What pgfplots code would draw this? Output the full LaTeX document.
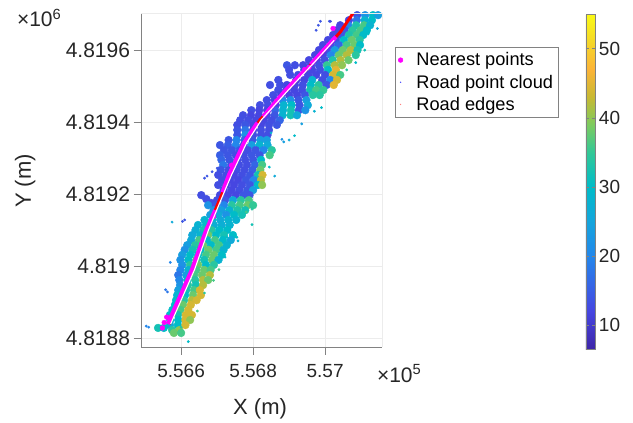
\documentclass[border=0pt]{standalone}
\usepackage{pgfplots}
\pgfplotsset{compat=1.18}
\usepackage{fontspec}
\setmainfont{Liberation Sans}
\definecolor{tk}{RGB}{38,38,38}
\definecolor{ax}{RGB}{130,130,130}
\definecolor{mag}{RGB}{255,0,255}
\definecolor{rd}{RGB}{255,0,0}
\definecolor{wh}{RGB}{255,255,255}
\pgfplotsset{colormap={scan}{
 rgb255(6.5)=(62,38,168) rgb255(12)=(70,70,225) rgb255(20)=(35,135,235) rgb255(25)=(20,165,220)
 rgb255(30)=(0,188,200) rgb255(35)=(50,200,150) rgb255(39)=(125,203,95) rgb255(43)=(200,185,50)
 rgb255(47)=(252,180,55) rgb255(51)=(245,215,40) rgb255(55)=(250,250,20)}}
\begin{document}
\begin{tikzpicture}
\path[use as bounding box] (-141.5bp,-76bp) rectangle (491.5bp,347bp);
\begin{axis}[
 at={(0,0)}, anchor=south west, scale only axis, width=240.5bp, height=334bp,
 xmin=556490, xmax=557158, ymin=4818775, ymax=4819703,
 clip mode=individual,
 axis x line*=bottom, axis y line*=left, axis line style={ax,-},
 tick style={ax}, tick align=outside, major tick length=8bp,
 xtick={556600,556800,557000}, xticklabels={5.566,5.568,5.57},
 ytick={4818800,4819000,4819200,4819400,4819600},
 yticklabels={4.8188,4.819,4.8192,4.8194,4.8196},
 scaled ticks=false,
 x tick label style={font=\fontsize{19bp}{22bp}\selectfont, text=tk, yshift=-6bp},
 y tick label style={font=\fontsize{21bp}{24bp}\selectfont, text=tk},
 grid=major, grid style={gray!15},
 xlabel={X (m)}, ylabel={Y (m)},
 label style={font=\fontsize{22bp}{26bp}\selectfont, text=tk},
 xlabel style={at={(rel axis cs:0.493,-0.186)}, anchor=center},
 ylabel style={at={(rel axis cs:-0.484,0.497)}, anchor=center, rotate=0},
 point meta min=6.5, point meta max=55,
 colormap name=scan,
 colorbar,
 colorbar style={at={(1.848,0.997)}, anchor=north west, width=9.5bp, height=335bp,
   ytick={10,20,30,40,50},
   yticklabel style={font=\fontsize{19bp}{22bp}\selectfont, text=tk, /pgf/number format/assume math mode=true},
   major tick length=3bp, tick style={ax}, axis line style={ax}, ymin=6.5, ymax=55},
 legend cell align=left,
 legend style={at={(1.054,0.898)}, anchor=north west, draw=ax, fill=white,
   font=\fontsize{18.2bp}{20bp}\selectfont, text=black, row sep=3.5pt, column sep=11.5bp, inner xsep=3bp, inner ysep=3.5bp},
 legend image post style={xshift=11bp},
 unbounded coords=jump,
]
\addlegendimage{only marks, mark=*, mark size=2.4bp, mag}
\addlegendimage{only marks, mark=*, mark size=0.4bp, blue!70}
\addlegendimage{only marks, mark=*, mark size=0.4bp, red!50}
\legend{Nearest points, Road point cloud, Road edges}

% main cloud
\addplot[forget plot, scatter, only marks, mark=*, mark size=3.9bp, point meta=explicit,
  scatter/use mapped color={draw=mapped color, fill=mapped color}] coordinates {
(557089,4819697)[14] (557111,4819697)[22] (557133,4819697)[30] (557147,4819697)[24]
(557066,4819683)[12] (557088,4819683)[18] (557110,4819683)[28] (557130,4819683)[30]
(557042,4819669)[12] (557064,4819669)[20] (557086,4819669)[33] (557108,4819669)[36] (557125,4819669)[28]
(557032,4819655)[12] (557054,4819655)[14] (557076,4819655)[34] (557098,4819655)[36] (557116,4819655)[30]
(557022,4819642)[12] (557044,4819642)[14] (557066,4819642)[33] (557088,4819642)[36] (557106,4819642)[30]
(557008,4819628)[12] (557030,4819628)[13] (557052,4819628)[30] (557074,4819628)[38] (557096,4819628)[34]
(556994,4819614)[12] (557016,4819614)[13] (557038,4819614)[16] (557060,4819614)[36] (557082,4819614)[38] (557097,4819614)[30]
(556983,4819600)[12] (557005,4819600)[13] (557027,4819600)[24] (557049,4819600)[38] (557071,4819600)[42] (557090,4819600)[32]
(556972,4819586)[12] (556994,4819586)[12] (557016,4819586)[20] (557038,4819586)[38] (557060,4819586)[42] (557085,4819586)[34]
(556955,4819572)[12] (556977,4819572)[12] (556999,4819572)[13] (557021,4819572)[33] (557043,4819572)[42] (557065,4819572)[38]
(556894,4819558)[14] (556916,4819558)[13]
(556939,4819558)[12] (556961,4819558)[12] (556983,4819558)[13] (557005,4819558)[35] (557027,4819558)[42] (557047,4819558)[40]
(556900,4819545)[13] (556942,4819545)[12] (556964,4819545)[12] (556986,4819545)[13] (557008,4819545)[30] (557030,4819545)[45]
(556903,4819531)[13] (556925,4819531)[13]
(556953,4819531)[12] (556975,4819531)[12] (557000,4819531)[13] (557022,4819531)[44] (557042,4819531)[36]
(556870,4819517)[13] (556920,4819517)[12] (556942,4819517)[12] (556964,4819517)[28] (556992,4819517)[13] (557014,4819517)[20] (557033,4819517)[44]
(556847,4819503)[13] (556875,4819503)[13]
(556894,4819503)[12] (556916,4819503)[12] (556938,4819503)[13] (556960,4819503)[30] (556982,4819503)[34] (557004,4819503)[14] (557024,4819503)[45]
(556870,4819489)[13] (556892,4819489)[12] (556914,4819489)[12] (556936,4819489)[13] (556958,4819489)[32] (556975,4819489)[36] (556995,4819489)[35]
(556856,4819475)[13] (556878,4819475)[12] (556900,4819475)[12] (556922,4819475)[12] (556944,4819475)[14] (556966,4819475)[34] (556985,4819475)[34]
(556838,4819461)[13] (556860,4819461)[12] (556882,4819461)[20] (556904,4819461)[22] (556926,4819461)[14] (556948,4819461)[24]
(556819,4819447)[13] (556841,4819447)[13] (556863,4819447)[12] (556885,4819447)[28] (556907,4819447)[30] (556929,4819447)[14] (556952,4819447)[26]
(556795,4819433)[13] (556817,4819433)[12] (556839,4819433)[12] (556861,4819433)[16] (556883,4819433)[28] (556905,4819433)[32] (556927,4819433)[14] (556945,4819433)[22]
(556772,4819419)[13] (556794,4819419)[12] (556816,4819419)[12] (556838,4819419)[12] (556860,4819419)[14] (556882,4819419)[28] (556904,4819419)[32] (556922,4819419)[26]
(556764,4819405)[13] (556786,4819405)[13] (556808,4819405)[12] (556830,4819405)[12] (556852,4819405)[13] (556874,4819405)[16]
(556756,4819392)[13] (556778,4819392)[14] (556800,4819392)[12] (556822,4819392)[12] (556844,4819392)[13] (556866,4819392)[14]
(556756,4819378)[14] (556778,4819378)[18] (556800,4819378)[12] (556822,4819378)[13] (556844,4819378)[13]
(556756,4819364)[14] (556778,4819364)[22] (556800,4819364)[13] (556822,4819364)[13] (556840,4819364)[13]
(556732,4819350)[14] (556754,4819350)[20] (556776,4819350)[16] (556798,4819350)[14] (556820,4819350)[24] (556838,4819350)[24]
(556708,4819336)[14] (556730,4819336)[15] (556752,4819336)[20] (556774,4819336)[13] (556796,4819336)[24] (556818,4819336)[28] (556840,4819336)[26]
(556719,4819322)[14] (556741,4819322)[14] (556763,4819322)[14] (556785,4819322)[13] (556807,4819322)[14] (556829,4819322)[20] (556852,4819322)[34]
(556708,4819308)[15] (556730,4819308)[14] (556752,4819308)[13] (556774,4819308)[13] (556796,4819308)[14] (556818,4819308)[14] (556846,4819308)[36]
(556712,4819295)[16] (556734,4819295)[14] (556756,4819295)[13] (556778,4819295)[13] (556800,4819295)[14] (556822,4819295)[30]
(556717,4819281)[18] (556739,4819281)[14] (556761,4819281)[13] (556783,4819281)[13] (556805,4819281)[16] (556825,4819281)[36]
(556710,4819267)[14] (556732,4819267)[13] (556754,4819267)[13] (556776,4819267)[13] (556798,4819267)[15] (556820,4819267)[38]
(556703,4819253)[13] (556725,4819253)[13] (556747,4819253)[12] (556769,4819253)[13] (556791,4819253)[14] (556813,4819253)[32] (556826,4819253)[44]
(556714,4819239)[13] (556736,4819239)[12] (556758,4819239)[12] (556780,4819239)[14] (556802,4819239)[20] (556822,4819239)[42]
(556703,4819225)[13] (556725,4819225)[12] (556747,4819225)[12] (556769,4819225)[13] (556791,4819225)[14] (556813,4819225)[30] (556825,4819225)[40]
(556718,4819211)[13] (556740,4819211)[12] (556762,4819211)[13] (556784,4819211)[14] (556800,4819211)[24]
(556708,4819197)[12] (556730,4819197)[12] (556752,4819197)[12] (556774,4819197)[14] (556790,4819197)[14]
(556656,4819197)[13] (556670,4819186)[13] (556684,4819175)[13] (556695,4819166)[13]
(556700,4819183)[13] (556722,4819183)[14] (556744,4819183)[26] (556766,4819183)[34] (556788,4819183)[36]
(556675,4819169)[22] (556697,4819169)[14] (556719,4819169)[20] (556741,4819169)[34] (556763,4819169)[36] (556785,4819169)[38] (556800,4819169)[35]
(556690,4819155)[22] (556712,4819155)[24] (556734,4819155)[28] (556756,4819155)[33] (556778,4819155)[32]
(556681,4819142)[24] (556703,4819142)[26] (556725,4819142)[22] (556747,4819142)[30] (556769,4819142)[32]
(556665,4819128)[28] (556687,4819128)[30] (556709,4819128)[26] (556731,4819128)[28] (556753,4819128)[28]
(556647,4819114)[28] (556669,4819114)[30] (556691,4819114)[27] (556713,4819114)[27] (556735,4819114)[28]
(556640,4819100)[27] (556662,4819100)[32] (556684,4819100)[34] (556706,4819100)[30] (556728,4819100)[30]
(556631,4819086)[26] (556653,4819086)[28] (556675,4819086)[38] (556697,4819086)[30] (556719,4819086)[32] (556744,4819086)[30]
(556628,4819072)[26] (556650,4819072)[36] (556672,4819072)[30] (556694,4819072)[36] (556716,4819072)[30] (556738,4819072)[26]
(556617,4819058)[24] (556639,4819058)[34] (556661,4819058)[38] (556683,4819058)[30] (556705,4819058)[36] (556727,4819058)[28]
(556610,4819045)[22] (556632,4819045)[32] (556654,4819045)[30] (556676,4819045)[38] (556698,4819045)[36] (556718,4819045)[28]
(556603,4819031)[24] (556625,4819031)[30] (556647,4819031)[30] (556669,4819031)[36] (556691,4819031)[38] (556713,4819031)[30]
(556598,4819017)[22] (556620,4819017)[30] (556642,4819017)[36] (556664,4819017)[32] (556686,4819017)[38] (556704,4819017)[28]
(556603,4819003)[22] (556625,4819003)[34] (556647,4819003)[38] (556669,4819003)[30] (556691,4819003)[34]
(556598,4818989)[20] (556620,4818989)[28] (556642,4818989)[36] (556664,4818989)[38] (556682,4818989)[36]
(556592,4818975)[18] (556614,4818975)[24] (556636,4818975)[36] (556658,4818975)[38] (556680,4818975)[42]
(556595,4818961)[20] (556617,4818961)[28] (556639,4818961)[34] (556661,4818961)[42] (556675,4818961)[38]
(556597,4818947)[22] (556619,4818947)[34] (556641,4818947)[32] (556661,4818947)[42]
(556592,4818933)[24] (556614,4818933)[32] (556636,4818933)[36] (556652,4818933)[44]
(556589,4818919)[28] (556611,4818919)[30] (556633,4818919)[38] (556655,4818919)[44]
(556586,4818905)[30] (556608,4818905)[34] (556630,4818905)[42] (556643,4818905)[44]
(556583,4818892)[30] (556605,4818892)[38] (556627,4818892)[44]
(556576,4818878)[30] (556598,4818878)[36] (556620,4818878)[44]
(556569,4818864)[30] (556591,4818864)[32] (556613,4818864)[44] (556630,4818864)[44]
(556570,4818850)[28] (556592,4818850)[30] (556612,4818850)[44] (556625,4818850)[40]
(556569,4818836)[26] (556591,4818836)[30] (556612,4818836)[44]
(556575,4818822)[34] (556595,4818822)[40]
(556580,4818814)[38] (556600,4818814)[36]
(556536,4818828)[32] (556552,4818828)[30]
};
% small islands and specks
\addplot[forget plot, scatter, only marks, mark=*, mark size=1.2bp, point meta=explicit,
  scatter/use mapped color={draw=mapped color, fill=mapped color}] coordinates {
(556981,4819669)[14] (556987,4819680)[14] (556975,4819655)[14] (557012,4819680)[14]
(557120,4819645)[30] (557145,4819660)[26] (557110,4819600)[32] (557085,4819565)[30] (557060,4819545)[34]
(557015,4819680)[13] (556955,4819560)[13] (556870,4819520)[13]
(556850,4819370)[28] (556885,4819345)[24] (556900,4819350)[26] (556915,4819362)[30] (556880,4819352)[22]
(556990,4819440)[30] (556970,4819430)[28] (556935,4819395)[24]
(556850,4819305)[36] (556845,4819275)[30] (556860,4819250)[26]
(556672,4819250)[14] (556686,4819262)[14] (556700,4819272)[14] (556665,4819244)[14]
(556610,4819128)[14] (556604,4819124)[14]
(556562,4818928)[18] (556557,4818934)[18]
(556503,4818833)[20] (556510,4818830)[20]
(556781,4819150)[36] (556797,4819158)[34] (556797,4819115)[32]
(556755,4819080)[30] (556758,4819070)[28] (556727,4819080)[30]
(556722,4819025)[30] (556705,4818990)[36] (556690,4818960)[36] (556665,4818925)[34]
(556645,4818875)[36] (556620,4818790)[30] (556600,4818830)[34]
(556575,4819122)[26] (556570,4819010)[20]
};
% road
\addplot[forget plot, color=rd, line width=3bp] coordinates {
(556567,4818839) (556633,4818989) (556672,4819100) (556703,4819175) (556736,4819253)
(556778,4819342) (556819,4819406) (556894,4819489) (556967,4819567) (557042,4819650) (557078,4819703)};
\addplot[forget plot, color=mag, line width=4.2bp] coordinates {
(556563,4818839) (556630,4818989) (556670,4819100) (556695,4819155) (nan,nan)
(556715,4819205) (556733,4819253) (556775,4819342) (556812,4819398) (nan,nan)
(556828,4819415) (556891,4819489) (556940,4819540) (nan,nan)
(556960,4819560) (557030,4819637)};
\addplot[forget plot, only marks, mark=*, mark size=2.4bp, color=mag, mark options={draw=mag, fill=mag}] coordinates {
(556548,4818828) (556553,4818843) (556560,4818858) (556690,4819138) (556865,4819458) (556943,4819546)
(556955,4819552) (557022,4819660) (556740,4819280)};
\addplot[forget plot, color=wh, line width=1.1bp] coordinates {
(556571,4818839) (556637,4818989) (556676,4819100) (556707,4819175) (556740,4819253)
(556782,4819342) (556823,4819406) (556898,4819489) (556971,4819567) (557025,4819627)};
\draw[gray!15] (rel axis cs:0,1) -- (rel axis cs:1,1) -- (rel axis cs:1,0);
\end{axis}
\node[font=\fontsize{21bp}{24bp}\selectfont, text=tk, anchor=base west] at (-128bp,320bp) {×10\textsuperscript{6}};
\node[font=\fontsize{21bp}{24bp}\selectfont, text=tk, anchor=base west] at (232bp,-35bp) {×10\textsuperscript{5}};
\end{tikzpicture}
\end{document}
